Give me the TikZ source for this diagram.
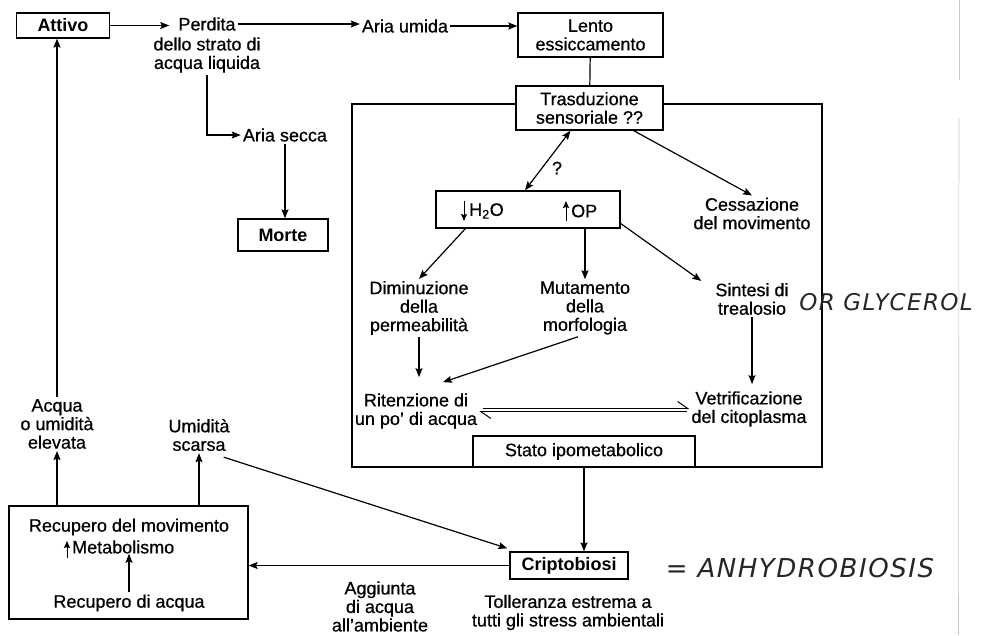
\documentclass[tikz,border=0pt]{standalone}
\usepackage{fontspec}
\setmainfont{Liberation Sans}[UprightFeatures={FakeBold=0.6}]
\newfontfamily\handfont{DejaVu Sans}[LetterSpace=6]
\usetikzlibrary{arrows.meta}
\begin{document}
\begin{tikzpicture}[x=1pt,y=-1pt,
  every node/.style={font=\fontsize{18}{18.5}\selectfont, inner sep=2pt, text=black},
  box/.style={draw, line width=1.3pt, inner sep=0pt},
  lbl/.style={align=center},
  boldtxt/.style={font=\fontsize{18}{18.5}\selectfont\bfseries},
  hand/.style={font=\handfont\itshape\fontsize{26}{28}\selectfont, text=black!85},
  conn/.style={line width=1.2pt},
  arr/.style={conn, -{Stealth[length=9pt,width=7pt,inset=1.5pt]}},
  small/.style={line width=1pt, -{Stealth[length=7pt,width=6pt,inset=1pt]}},
  dbl/.style={conn, {Stealth[length=9pt,width=7pt,inset=1.5pt]}-{Stealth[length=9pt,width=7pt,inset=1.5pt]}},
  harp/.style={line width=1pt, -{Straight Barb[harpoon,length=10pt,width=14pt]}}]
\useasboundingbox (0,0) rectangle (988,635);
% page edge of the scan
\draw[gray!45, line width=0.6pt] (959.5,0) -- (959.5,80);
\draw[gray!45, line width=0.6pt] (959,118) -- (958.5,635);
% nodes
\node[box, boldtxt, minimum width=93pt, minimum height=25pt] (attivo) at (63,25.5) {Attivo};
\node (perdita) at (207,24) {Perdita};
\node[lbl] (perditab) at (207,55) {dello strato di\\acqua liquida};
\node (ariaumida) at (405,26) {Aria umida};
\node[box, lbl, minimum width=145pt, minimum height=44pt] (lento) at (590.5,35) {Lento\\essiccamento};
\node[draw, line width=2.3pt, minimum width=470pt, minimum height=363pt, inner sep=0pt] (frame) at (587,285.5) {};
\node[box, lbl, fill=white, minimum width=147pt, minimum height=44pt] (trasd) at (589.5,108) {Trasduzione\\sensoriale ??};
\node[box, minimum width=184pt, minimum height=37pt] (h2o) at (528,209.5) {};
\node[anchor=west, inner sep=0pt] (h2otxt) at (469,211) {H\textsubscript{2}O};
\node[anchor=west, inner sep=0pt] (optxt) at (571,211) {OP};
\draw[small] (464,201) -- (464,221);
\draw[small] (566,221) -- (566,201);
\node (qm) at (557,168) {?};
\node[lbl] (cess) at (752,213.5) {Cessazione\\del movimento};
\node[lbl] (dimin) at (419,308) {Diminuzione\\della\\permeabilità};
\node[lbl] (mutam) at (585,308) {Mutamento\\della\\morfologia};
\node[lbl] (sintesi) at (752,299) {Sintesi di\\trealosio};
\node[lbl] (riten) at (416,411) {Ritenzione di\\un po' di acqua};
\node[lbl] (vetrif) at (749,409) {Vetrificazione\\del citoplasma};
\node[box, minimum width=222pt, minimum height=31pt] (stato) at (584,451.5) {Stato ipometabolico};
\node[box, boldtxt, minimum width=118pt, minimum height=27pt] (cripto) at (569,565.5) {Criptobiosi};
\node[lbl] (toll) at (568,612.5) {Tolleranza estrema a\\tutti gli stress ambientali};
\node[lbl] (aggiunta) at (380,606.5) {Aggiunta\\di acqua\\all'ambiente};
\node[box, minimum width=239pt, minimum height=113pt] (recup) at (128.5,562.5) {};
\node (recmov) at (129,527) {Recupero del movimento};
\node[anchor=west, inner sep=0pt] (metab) at (72,547) {Metabolismo};
\draw[small] (67,558) -- (67,541);
\node (recacq) at (129,603) {Recupero di acqua};
\node[lbl] (acqua) at (57,424) {Acqua\\o umidità\\elevata};
\node[lbl] (umid) at (199,435) {Umidità\\scarsa};
\node (ariasecca) at (285,135) {Aria secca};
\node[box, boldtxt, minimum width=90pt, minimum height=32pt] (morte) at (283,235) {Morte};
\node[hand] (anhydro) at (800,568) {= ANHYDROBIOSIS};
\node[hand, font=\handfont\itshape\fontsize{23}{25}\selectfont] (glyc) at (886,302) {OR GLYCEROL};
% connectors
\draw[arr, shorten >=7pt] (attivo.east) -- (attivo.east -| perdita.west);
\draw[arr] (perdita.east) -- (perdita.east -| ariaumida.west);
\draw[arr] (ariaumida.east) -- (ariaumida.east -| lento.west);
\draw[arr] (perditab.south) |- (ariasecca.west);
\draw[arr] (ariasecca.south) -- (ariasecca.south |- morte.north);
\draw[conn] (lento) -- (trasd);
\draw[dbl] ([xshift=-19pt]trasd.south) -- ([xshift=-3pt]h2o.north);
\draw[arr] ([xshift=-30pt]trasd.south east) -- (cess.north);
\draw[arr] ([xshift=30pt]h2o.south west) -- (dimin.north);
\draw[arr] (h2o.south -| mutam.north) -- (mutam.north);
\draw[arr] ([yshift=-14pt]h2o.east) -- ([xshift=-12pt]sintesi.north west);
\draw[arr, shorten >=14pt] (dimin.south) -- (dimin.south |- riten.north);
\draw[arr] ([xshift=-7pt]mutam.south) -- ([xshift=27pt,yshift=9pt]riten.north);
\draw[arr, shorten >=5pt] (sintesi.south) -- (sintesi.south |- vetrif.north);
\coordinate (hl) at ([yshift=2.5pt]riten.east);
\coordinate (hr) at ([yshift=-2.5pt]vetrif.west);
\draw[harp, shorten <=4pt] (hl) -- (hl -| vetrif.west);
\draw[harp, shorten <=2pt] (hr) -- (hr -| riten.east);
\draw[arr] (stato.south) -- (stato.south |- cripto.north);
\draw[arr] (cripto.west) -- (cripto.west -| recup.east);
\draw[arr] (recacq.north) -- (recacq.north |- metab.south);
\draw[arr] (recup.north -| acqua.south) -- (acqua.south);
\draw[arr] (recup.north -| umid.south) -- (umid.south);
\draw[arr] (acqua.north) -- (acqua.north |- attivo.south);
\draw[arr] ([xshift=-8pt,yshift=-4pt]umid.south east) -- ([xshift=-2pt,yshift=3pt]cripto.north west);
\end{tikzpicture}
\end{document}
